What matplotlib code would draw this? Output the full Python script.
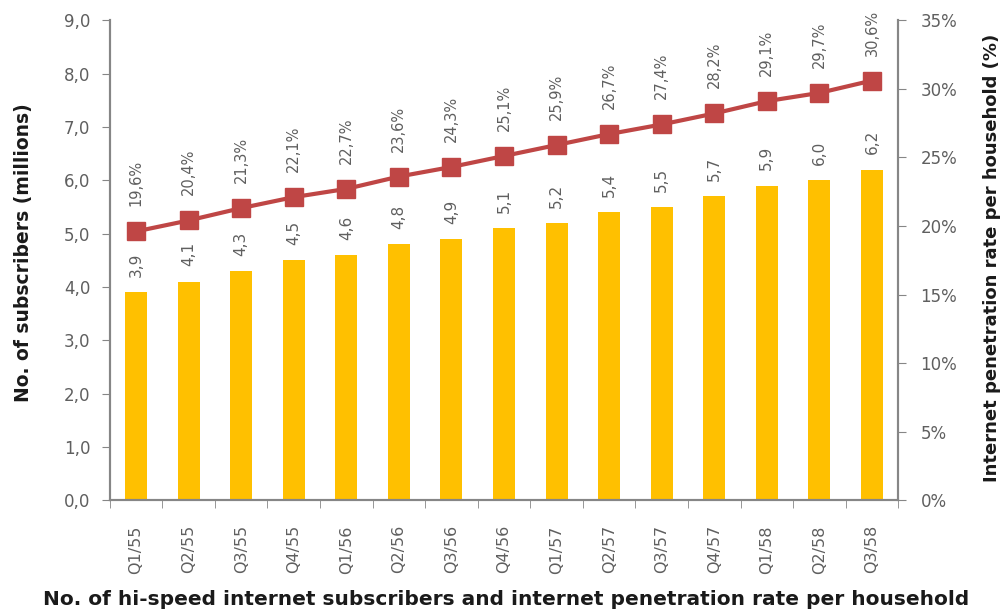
import matplotlib
matplotlib.use("Agg")
import matplotlib.pyplot as plt
import numpy as np

quarters = ["Q1/55", "Q2/55", "Q3/55", "Q4/55", "Q1/56", "Q2/56", "Q3/56", "Q4/56",
            "Q1/57", "Q2/57", "Q3/57", "Q4/57", "Q1/58", "Q2/58", "Q3/58"]
subscribers = [3.9, 4.1, 4.3, 4.5, 4.6, 4.8, 4.9, 5.1, 5.2, 5.4, 5.5, 5.7, 5.9, 6.0, 6.2]
penetration = [19.6, 20.4, 21.3, 22.1, 22.7, 23.6, 24.3, 25.1, 25.9, 26.7, 27.4, 28.2, 29.1, 29.7, 30.6]

left_ticks = [0, 1, 2, 3, 4, 5, 6, 7, 8, 9]
right_ticks = [0, 5, 10, 15, 20, 25, 30, 35]

BAR = "#FFC000"
LINE = "#BF4645"
GRAY = "#868686"
TXT = "#5f5f5f"

def comma(v, fmt):
    return (fmt % v).replace(".", ",")

fig = plt.figure(figsize=(10.07, 6.13), dpi=100)
ax = fig.add_axes([0.109, 0.184, 0.783, 0.783])
ax2 = ax.twinx()

x = np.arange(len(quarters))
ax.bar(x, subscribers, width=0.42, color=BAR, zorder=2)
for xi, v in zip(x, subscribers):
    ax.annotate(comma(v, "%.1f"), (xi, v), xytext=(0, 11), textcoords="offset points",
                rotation=90, ha="center", va="bottom", fontsize=11, color=TXT)

ax.set_xlim(-0.5, len(quarters) - 0.5)
ax.set_ylim(0, 9)
ax.set_yticks(left_ticks)
ax.set_yticklabels([comma(v, "%.1f") for v in left_ticks], fontsize=12, color=TXT)
ax.set_xticks(x)
ax.set_xticklabels(quarters, rotation=90, fontsize=11.5, color=TXT)
ax.set_xticks(np.arange(-0.5, len(quarters) + 0.5, 1), minor=True)
ax.tick_params(axis="x", which="major", length=0, pad=18)
ax.tick_params(axis="x", which="minor", length=6, color=GRAY, direction="out")
ax.tick_params(axis="y", length=6, color=GRAY, direction="out", pad=8)

ax2.plot(x, penetration, color=LINE, lw=3, marker="s", markersize=13, zorder=3)
for xi, v in zip(x, penetration):
    ax2.annotate(comma(v, "%.1f") + "%", (xi, v), xytext=(0, 18), textcoords="offset points",
                 rotation=90, ha="center", va="bottom", fontsize=10.5, color=TXT)
ax2.set_ylim(0, 35)
ax2.set_yticks(right_ticks)
ax2.set_yticklabels(["%d%%" % v for v in right_ticks], fontsize=12, color=TXT)
ax2.tick_params(axis="y", length=6, color=GRAY, direction="out", pad=10)

for a in (ax, ax2):
    a.spines["top"].set_visible(False)
    for s in ("left", "right", "bottom"):
        a.spines[s].set_color(GRAY)
        a.spines[s].set_linewidth(1.5)

ax.set_ylabel("No. of subscribers (millions)", fontsize=13.5, fontweight="bold",
              family="DejaVu Sans", color="#1a1a1a")
ax.yaxis.set_label_coords(-0.097, 0.515)
ax2.set_ylabel("Internet penetration rate per household (%)", fontsize=13, fontweight="bold",
               family="DejaVu Sans", color="#1a1a1a")
ax2.yaxis.set_label_coords(1.107, 0.505)
fig.text(0.503, 0.022, "No. of hi-speed internet subscribers and internet penetration rate per household",
         ha="center", va="center", fontsize=14.5, fontweight="bold", family="DejaVu Sans",
         color="#1a1a1a")

fig.savefig("out.png", dpi=100)
